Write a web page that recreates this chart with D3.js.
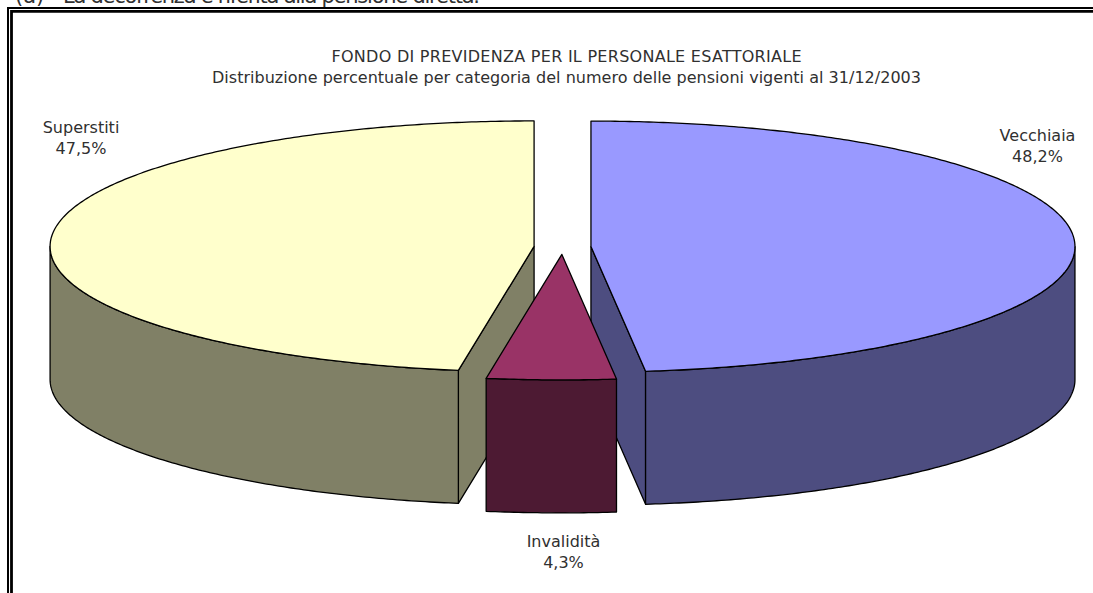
<!DOCTYPE html>
<html><head><meta charset="utf-8">
<script src="https://cdn.jsdelivr.net/npm/d3@7/dist/d3.min.js"></script>
<style>html,body{margin:0;padding:0;background:#fff;overflow:hidden}svg{display:block}text{font-family:"DejaVu Sans",Verdana,sans-serif;fill:#303030}</style>
</head><body><svg id="c" width="1093" height="593"></svg>
<script>
const categories = ["Vecchiaia","Invalidità","Superstiti"];
const shares = [48.2,4.3,47.5];
const shareLabels = ["48,2%","4,3%","47,5%"];
const topColors = ["#9999ff","#993366","#ffffcc"];
const sideColors = ["#4d4d80","#4d1a33","#808066"];
const titleLines = ["FONDO DI PREVIDENZA PER IL PERSONALE ESATTORIALE","Distribuzione percentuale per categoria del numero delle pensioni vigenti al 31/12/2003"];
const footnoteMark = "(a)";
const footnote = "La decorrenza è riferita alla pensione diretta.";

const svg = d3.select("#c");
const W=1093,H=593,cx=562.5,cy=247,rx=484,ry=125.5,depth=133,explode=28.5;
const labelPos = [[1037.5,141],[563.5,546.5],[81,132.5]];
const titleWidths = [470,709];
const FS=16;

const fg=svg.append("g").attr("font-size",21).style("font-family","'Liberation Sans',Arial,sans-serif");
fg.append("text").attr("x",15).attr("y",2.5).text(footnoteMark);
fg.append("text").attr("x",63).attr("y",2.5).attr("textLength",417).text(footnote);
const frame = svg.append("g").attr("fill","none").attr("stroke","#000");
frame.append("path").attr("d",`M8 ${H}V8H${W}`).attr("stroke-width",2);
frame.append("path").attr("d",`M11.5 ${H}V11.4H${W}`).attr("stroke-width",2.8);

const arcs = d3.pie().sort(null).value(d=>d)(shares);
const pt=(a,ox,oy,dz=0)=>[ox+rx*Math.sin(a),oy-ry*Math.cos(a)+dz];
const line=d3.line();
function rim(a0,a1,ox,oy,dz){const n=Math.max(2,Math.ceil((a1-a0)/0.01)),p=[];
  for(let i=0;i<=n;i++)p.push(pt(a0+(a1-a0)*i/n,ox,oy,dz));return p;}
const info = arcs.map((d,i)=>{const m=(d.startAngle+d.endAngle)/2;
  return {d,i,ox:cx+explode*Math.sin(m),oy:cy-explode*ry/rx*Math.cos(m)};});
const P=(g,pts,fill)=>g.append("path").attr("d",line(pts)+"Z").attr("fill",fill).attr("stroke","#000").attr("stroke-width",1.3).attr("stroke-linejoin","round");
const g=svg.append("g");
function draw(s){
  const {d,i,ox,oy}=s,a0=d.startAngle,a1=d.endAngle;
  if(i===0){const b=pt(a1,ox,oy);P(g,[[ox,oy],b,[b[0],b[1]+depth],[ox,oy+depth]],sideColors[i]);}
  if(i===2){const b=pt(a0,ox,oy);P(g,[[ox,oy],b,[b[0],b[1]+depth],[ox,oy+depth]],sideColors[i]);}
  const w0=Math.max(a0,Math.PI/2),w1=Math.min(a1,Math.PI*1.5);
  if(w1>w0)P(g,rim(w0,w1,ox,oy,0).concat(rim(w0,w1,ox,oy,depth).reverse()),sideColors[i]);
  P(g,[[ox,oy]].concat(rim(a0,a1,ox,oy,0)),topColors[i]);
}
[info[2],info[0],info[1]].forEach(draw);

const tg=svg.append("g").attr("text-anchor","middle").attr("font-size",FS);
titleLines.forEach((t,i)=>tg.append("text").attr("x",566.5).attr("y",61.5+i*21.5).attr("textLength",titleWidths[i]).text(t));
categories.forEach((c,i)=>{
  tg.append("text").attr("x",labelPos[i][0]).attr("y",labelPos[i][1]).text(c);
  tg.append("text").attr("x",labelPos[i][0]).attr("y",labelPos[i][1]+21).text(shareLabels[i]);
});
</script></body></html>
